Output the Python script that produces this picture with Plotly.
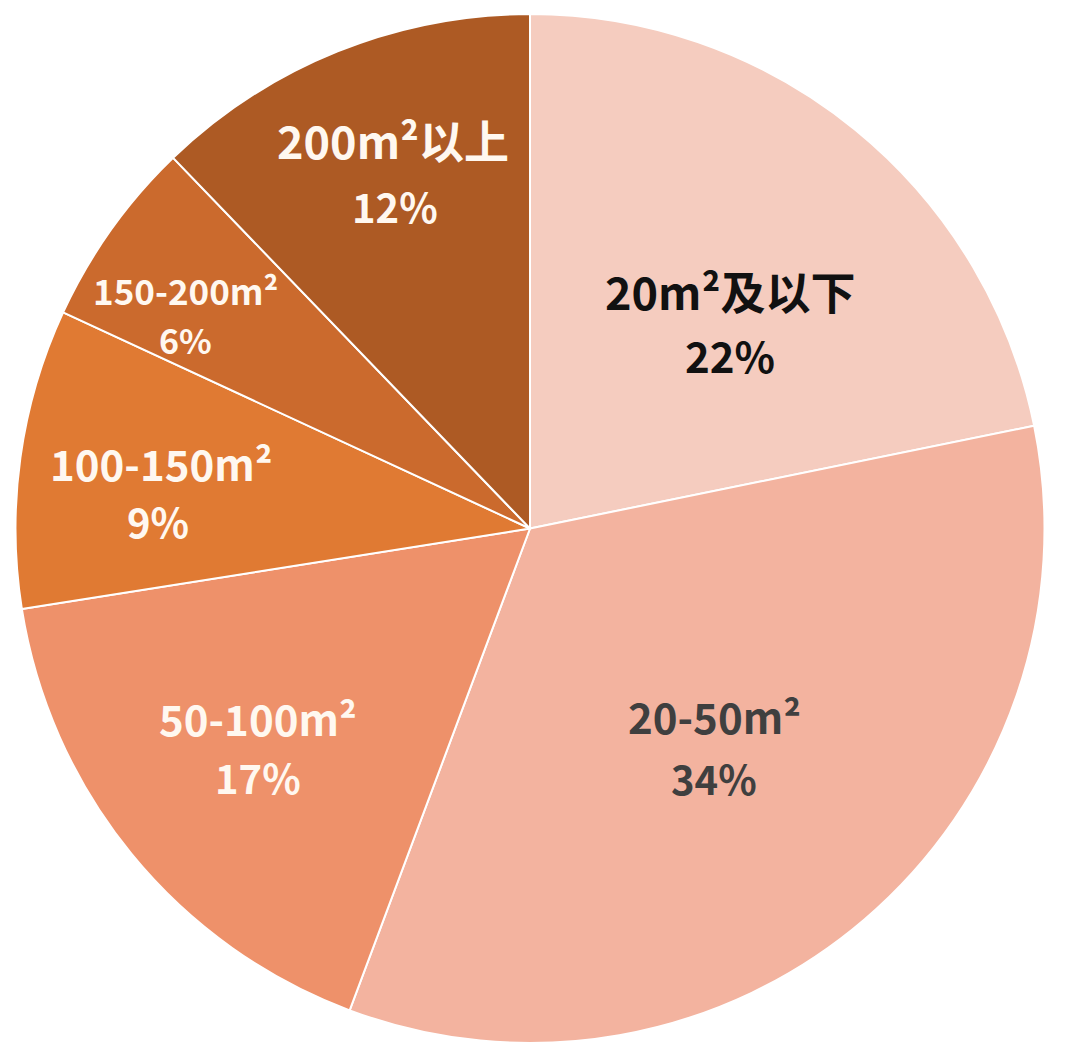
import plotly.graph_objects as go

W, H = 1071, 1062
OFF = 8  # browser body margin

labels = ["20m²及以下", "20-50m²", "50-100m²", "100-150m²", "150-200m²", "200m²以上"]
# shares (labels show rounded percentages)
values = [21.8, 33.9, 16.8, 9.4, 5.9, 12.2]
pct_text = ["22%", "34%", "17%", "9%", "6%", "12%"]
colors = ["#F5CCBF", "#F3B39F", "#EE916A", "#E07A33", "#CB6A2D", "#AD5A24"]
text_colors = ["#111111", "#3F3F3F", "#FFF8F0", "#FFF8F0", "#FFF8F0", "#FFF8F0"]
label_sizes = [45, 42, 42, 42, 35, 45]
pct_sizes = [42, 40, 40, 40, 34, 40]
# label anchor positions in pixels (line1 center, line2 center)
label_pos = [(730, 290, 730, 355), (714, 715, 714, 778), (258, 717, 258, 777),
             (161, 463, 158, 521), (185, 289, 185, 340), (393, 140, 395, 206)]

fig = go.Figure(go.Pie(
    labels=labels,
    values=values,
    sort=False,
    direction="clockwise",
    rotation=0,
    marker=dict(colors=colors, line=dict(color="#FFFFFF", width=2)),
    textinfo="none",
    hoverinfo="label",
    showlegend=False,
    domain=dict(x=[(14 - OFF) / W, (1046 - OFF) / W],
                y=[1 - (1043 - OFF) / H, 1 - (14 - OFF) / H]),
))

font_family = "Noto Sans CJK SC, Noto Sans, sans-serif"
for i, lab in enumerate(labels):
    x1, y1, x2, y2 = label_pos[i]
    for txt, px, py, fs in ((lab, x1, y1, label_sizes[i]), (pct_text[i], x2, y2, pct_sizes[i])):
        fig.add_annotation(
            x=(px - OFF) / W, y=1 - (py - OFF) / H, xref="paper", yref="paper",
            text=f"<b>{txt}</b>", showarrow=False,
            xanchor="center", yanchor="middle",
            font=dict(family=font_family, size=fs, color=text_colors[i]),
        )

fig.update_layout(
    width=W, height=H,
    margin=dict(l=0, r=0, t=0, b=0),
    paper_bgcolor="#FFFFFF",
    plot_bgcolor="#FFFFFF",
)

fig.write_html("out.html")
